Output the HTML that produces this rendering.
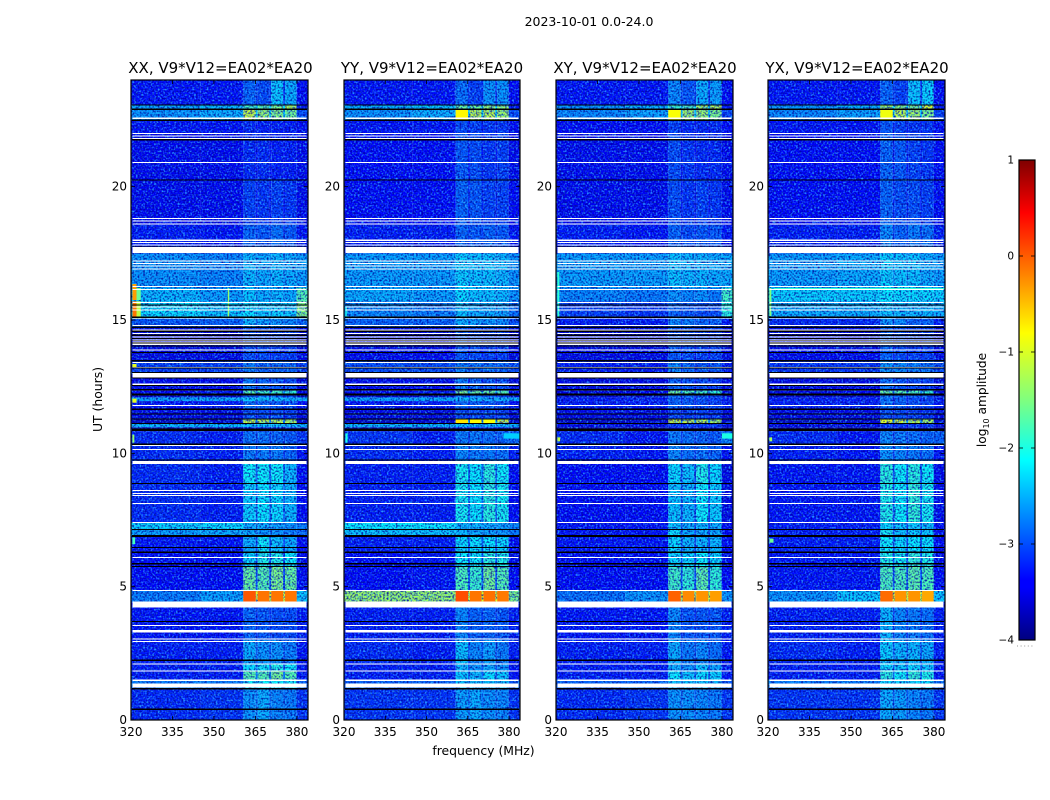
<!DOCTYPE html>
<html lang="en">
<head>
<meta charset="utf-8">
<title>2023-10-01 0.0-24.0</title>
<style>
html,body{margin:0;padding:0;background:#fff;width:1050px;height:800px;overflow:hidden}
svg{display:block}
text{font-family:"DejaVu Sans","Liberation Sans",sans-serif;fill:#000}
</style>
</head>
<body>
<svg id="figure" xmlns="http://www.w3.org/2000/svg" width="1050" height="800" viewBox="0 0 1050 800">
  <defs>
    <filter id="speck-light" x="0" y="0" width="100%" height="100%" color-interpolation-filters="sRGB">
      <feTurbulence type="fractalNoise" baseFrequency="0.55" numOctaves="1" seed="7"/>
      <feColorMatrix type="matrix" values="0 0 0 0 0.2  0 0 0 0 0.72  0 0 0 0 1  3.2 0 0 0 -1.45"/>
    </filter>
    <filter id="speck-dark" x="0" y="0" width="100%" height="100%" color-interpolation-filters="sRGB">
      <feTurbulence type="fractalNoise" baseFrequency="0.55" numOctaves="1" seed="23"/>
      <feColorMatrix type="matrix" values="0 0 0 0 0  0 0 0 0 0  0 0 0 0 0.6  0 3 0 0 -1.3"/>
    </filter>
    <linearGradient id="jet-gradient" x1="0" y1="1" x2="0" y2="0">
      <stop offset="0" stop-color="#00007f"/>
      <stop offset="0.11" stop-color="#0000ff"/>
      <stop offset="0.125" stop-color="#0000ff"/>
      <stop offset="0.375" stop-color="#00ffff"/>
      <stop offset="0.5" stop-color="#7fff7f"/>
      <stop offset="0.64" stop-color="#ffff00"/>
      <stop offset="0.89" stop-color="#ff0000"/>
      <stop offset="1" stop-color="#7f0000"/>
    </linearGradient>
  </defs>
  <text x="589" y="26" font-size="12.5" text-anchor="middle">2023-10-01 0.0-24.0</text>
  <text x="483.5" y="755" font-size="12.4" text-anchor="middle">frequency (MHz)</text>
  <text x="0" y="0" font-size="12.4" text-anchor="middle" transform="translate(102,399.5) rotate(-90)">UT (hours)</text>
  <text x="0" y="0" font-size="12.2" text-anchor="middle" transform="translate(986,400) rotate(-90)">log<tspan font-size="8" dy="3">10</tspan><tspan dy="-3"> amplitude</tspan></text>
  <g id="panels"></g>
  <g id="colorbar"></g>
</svg>
<script>
// ---- Data ----
const panelTitles = ["XX, V9*V12=EA02*EA20", "YY, V9*V12=EA02*EA20", "XY, V9*V12=EA02*EA20", "YX, V9*V12=EA02*EA20"];
const xTickValues = [320, 335, 350, 365, 380];
const yTickValues = [0, 5, 10, 15, 20];
const colorbarTicks = [-4, -3, -2, -1, 0, 1];

// Frequency segments in MHz and the column of each row value that paints them.
const freqEdges = [320, 345, 360.6, 365.1, 365.8, 370, 370.7, 375, 375.7, 379.9, 384];
const freqColumn = [0, 1, 2, 6, 3, 6, 4, 6, 5, 7];

// UT hours at row boundaries
const hourEdges = [0,1.2,1.52,1.85,2.1,3,4.22,4.44,4.86,5.75,6.3,6.9,7.15,7.41,8.87,9.6,10.3,10.83,10.98,11.1,11.3,11.7,11.96,12.1,12.22,12.35,13,13.45,14.7,15.05,15.7,16.2,17.5,18.6,20.25,22,22.5,22.9,23.06,24];

// log10 amplitude: [left, mid, bandA, bandB, bandC, bandD, gaps, right]
const rowsXX = [
[-2.95,-2.9,-2.5,-2.4,-2.55,-2.6,-2.65,-2.9],
[-2.6,-2.6,-2.1,-2.1,-2.1,-2.1,-2.4,-2.7],
[-3,-3,-1.7,-1.7,-1.55,-1.7,-2.6,-3.05],
[-3,-3,-2.2,-2.1,-2,-2.1,-2.7,-3.05],
[-3,-3,-2.4,-2.5,-2.5,-2.6,-2.75,-3.05],
[-3.05,-3.05,-2.7,-2.75,-2.8,-2.8,-2.9,-3],
[-3.05,-3.05,-2.7,-2.75,-2.8,-2.8,-2.9,-3],
[-2.6,-2.45,-0.05,-0.2,-0.2,-0.2,-1,-2.3],
[-3.1,-3.1,-1.6,-1.7,-1.5,-1.6,-2.8,-3.1],
[-3.1,-3.1,-2.2,-2,-2,-2.1,-2.8,-3.15],
[-3.05,-3.05,-2.4,-2.1,-2.3,-2.4,-2.8,-3.1],
[-2.45,-2.4,-2.4,-2.5,-2.5,-2.6,-2.6,-2.7],
[-2.25,-2.2,-2.4,-2.4,-2.45,-2.5,-2.5,-2.6],
[-2.95,-3,-2.25,-2.15,-2.2,-2.35,-2.7,-3.1],
[-2.95,-3,-2.1,-2.1,-2.1,-2.35,-2.7,-3.1],
[-2.95,-3,-2.6,-2.6,-2.6,-2.7,-2.85,-3.05],
[-2.95,-3,-2.65,-2.65,-2.7,-2.75,-2.85,-2.9],
[-3.4,-3.4,-3,-3,-3,-3,-3.2,-3.4],
[-2.35,-2.35,-2.3,-2.3,-2.3,-2.3,-2.4,-2.4],
[-3.4,-3.3,-1.15,-1.2,-1.2,-1.25,-2.6,-3.3],
[-3.2,-3.2,-2.8,-2.8,-2.8,-2.85,-3,-3.2],
[-3.05,-3,-2.65,-2.7,-2.75,-2.8,-2.9,-3.1],
[-2.45,-2.4,-2.3,-2.3,-2.35,-2.4,-2.4,-2.4],
[-3.3,-3.3,-2.7,-2.7,-2.7,-2.8,-3,-3.3],
[-3.1,-3,-1.7,-1.8,-1.8,-1.9,-2.5,-3.1],
[-3.15,-3.15,-2.6,-2.7,-2.75,-2.8,-3,-3.2],
[-2.85,-2.85,-2.6,-2.7,-2.7,-2.7,-2.8,-2.85],
[-3.2,-3.2,-2.8,-2.8,-2.85,-2.85,-3,-3.2],
[-2.75,-2.7,-2.35,-2.45,-2.5,-2.55,-2.6,-2.7],
[-2.2,-2.3,-2.2,-2.3,-2.25,-2.3,-2.3,-1.45],
[-2.35,-2.45,-2.3,-2.4,-2.35,-2.4,-2.45,-1.7],
[-2.5,-2.55,-2.35,-2.4,-2.35,-2.4,-2.5,-2.45],
[-3,-3.05,-2.7,-2.75,-2.65,-2.75,-2.85,-3.05],
[-3.15,-3.15,-2.85,-2.9,-2.85,-2.9,-3,-3.15],
[-3.15,-3.15,-2.95,-2.95,-3,-3,-3.05,-3.15],
[-3.05,-3.05,-2.95,-3,-3,-3,-3.05,-3.1],
[-2.5,-2.4,-1.15,-1.35,-1.45,-1.55,-2.3,-2.8],
[-2.45,-2.35,-1.8,-1.7,-1.5,-1.25,-2.2,-3],
[-3.05,-3.05,-2.7,-2.8,-2.3,-2.4,-2.85,-3.1]];

const rowsYY = [
[-2.9,-2.9,-2.45,-2.4,-2.5,-2.55,-2.65,-2.9],
[-2.7,-2.7,-2.3,-2.3,-2.3,-2.3,-2.5,-2.75],
[-3,-3,-2.3,-2.35,-2.2,-2.3,-2.7,-3.05],
[-3,-3,-2.35,-2.5,-2.4,-2.5,-2.75,-3.05],
[-2.95,-3,-2.3,-2.55,-2.45,-2.6,-2.75,-3],
[-3,-3,-2.55,-2.7,-2.7,-2.75,-2.85,-3],
[-3,-3,-2.55,-2.7,-2.7,-2.75,-2.85,-3],
[-1.35,-1.35,0,-0.2,-0.18,-0.22,-1,-1.5],
[-3.1,-3.05,-1.75,-1.85,-1.55,-1.7,-2.75,-3.1],
[-3.1,-3.05,-2.1,-2.1,-1.95,-2,-2.75,-3.15],
[-3,-3,-2.2,-2.15,-2.15,-2.2,-2.75,-3.1],
[-2.3,-2.3,-2.35,-2.4,-2.45,-2.5,-2.5,-2.6],
[-2.15,-2.15,-2.35,-2.35,-2.4,-2.45,-2.45,-2.55],
[-3,-3,-2.05,-2.15,-1.95,-2.05,-2.65,-3.1],
[-3,-3,-2.05,-2.15,-1.95,-2.1,-2.65,-3.1],
[-2.95,-3,-2.55,-2.6,-2.6,-2.65,-2.8,-3],
[-2.9,-3,-2.6,-2.6,-2.65,-2.7,-2.85,-2.7],
[-3.4,-3.4,-3,-3,-3,-3,-3.2,-3.4],
[-2.35,-2.35,-2.35,-2.35,-2.35,-2.35,-2.4,-2.4],
[-3.4,-3.3,-0.75,-0.85,-0.9,-1,-2.4,-3.3],
[-3.2,-3.2,-2.8,-2.8,-2.8,-2.85,-3,-3.2],
[-3.05,-3,-2.7,-2.7,-2.75,-2.8,-2.9,-3.1],
[-2.45,-2.4,-2.35,-2.35,-2.4,-2.4,-2.4,-2.4],
[-3.3,-3.3,-2.7,-2.7,-2.75,-2.8,-3,-3.3],
[-3.1,-3,-1.5,-1.6,-1.6,-1.7,-2.4,-3.1],
[-3.15,-3.15,-2.6,-2.7,-2.75,-2.8,-3,-3.2],
[-2.8,-2.8,-2.6,-2.65,-2.65,-2.7,-2.75,-2.8],
[-3.15,-3.15,-2.75,-2.8,-2.85,-2.85,-3,-3.2],
[-2.7,-2.7,-2.4,-2.45,-2.5,-2.55,-2.6,-2.8],
[-2.55,-2.6,-2.3,-2.4,-2.4,-2.45,-2.45,-2.65],
[-2.4,-2.45,-2.2,-2.3,-2.3,-2.35,-2.35,-2.5],
[-2.45,-2.45,-2.25,-2.3,-2.3,-2.35,-2.4,-2.5],
[-3,-3,-2.7,-2.75,-2.7,-2.75,-2.85,-3.05],
[-3.1,-3.1,-2.7,-2.75,-2.85,-2.85,-2.95,-3.1],
[-3.1,-3.1,-2.75,-2.8,-2.9,-2.85,-3,-3.15],
[-3.05,-3.05,-2.8,-2.85,-2.9,-2.9,-3,-3.1],
[-2.5,-2.4,-0.85,-1.2,-1.2,-1.35,-2.25,-2.8],
[-2.4,-2.3,-1.6,-1.6,-1.4,-1.4,-2.2,-3],
[-3.05,-3.05,-2.65,-2.85,-2.5,-2.5,-2.9,-3.1]];

const rowsXY = [
[-2.95,-2.9,-2.5,-2.5,-2.55,-2.6,-2.7,-2.9],
[-2.7,-2.7,-2.3,-2.3,-2.3,-2.35,-2.5,-2.75],
[-3,-3,-2.15,-2.3,-2.2,-2.25,-2.7,-3.05],
[-3,-3,-2.4,-2.5,-2.3,-2.45,-2.75,-3.05],
[-3,-3,-2.4,-2.6,-2.55,-2.65,-2.8,-3.05],
[-3.05,-3.05,-2.55,-2.75,-2.75,-2.75,-2.9,-3],
[-3.05,-3.05,-2.55,-2.75,-2.75,-2.75,-2.9,-3],
[-2.65,-2.5,-0.1,-0.3,-0.35,-0.4,-1.1,-2.5],
[-3.1,-3.1,-1.8,-1.9,-1.65,-1.9,-2.8,-3.1],
[-3.1,-3.1,-2.2,-2.2,-2.1,-2.2,-2.8,-3.15],
[-3.05,-3.05,-2.2,-2.35,-2.35,-2.35,-2.8,-3.1],
[-3.05,-3.05,-2.15,-2.4,-2.4,-2.4,-2.8,-3.1],
[-3.05,-3.05,-2.3,-2.4,-2.35,-2.4,-2.8,-3.1],
[-3.1,-3.1,-2.3,-2.35,-2.1,-2.25,-2.8,-3.2],
[-3.1,-3.1,-2.2,-2.3,-2,-2.2,-2.8,-3.2],
[-3,-3.05,-2.55,-2.65,-2.65,-2.7,-2.85,-3.05],
[-2.95,-3.05,-2.6,-2.65,-2.7,-2.75,-2.85,-2.6],
[-3.4,-3.4,-3,-3,-3,-3,-3.2,-3.4],
[-3.2,-3.2,-2.9,-2.9,-2.9,-2.9,-3.1,-3.2],
[-3.4,-3.3,-1.05,-1.1,-1.2,-1.3,-2.6,-3.3],
[-3.2,-3.2,-2.85,-2.85,-2.85,-2.9,-3,-3.2],
[-3,-3,-2.7,-2.75,-2.8,-2.85,-2.95,-3],
[-3,-3,-2.7,-2.75,-2.8,-2.85,-2.95,-3],
[-3.3,-3.3,-2.7,-2.7,-2.75,-2.8,-3,-3.3],
[-3.2,-3.1,-1.55,-1.75,-1.8,-1.9,-2.6,-3.2],
[-3.2,-3.2,-2.7,-2.75,-2.8,-2.85,-3,-3.2],
[-3,-3,-2.55,-2.7,-2.75,-2.75,-2.9,-3],
[-3.2,-3.2,-2.75,-2.8,-2.85,-2.85,-3.05,-3.2],
[-3,-3,-2.55,-2.6,-2.7,-2.7,-2.8,-3],
[-2.85,-2.9,-2.7,-2.75,-2.8,-2.8,-2.8,-1.95],
[-2.55,-2.6,-2.5,-2.55,-2.5,-2.6,-2.6,-1.8],
[-2.45,-2.45,-2.3,-2.35,-2.35,-2.4,-2.45,-2.4],
[-3,-3.05,-2.7,-2.8,-2.75,-2.75,-2.9,-3.05],
[-3.15,-3.15,-2.8,-2.9,-2.85,-2.9,-3,-3.15],
[-3.15,-3.15,-2.8,-2.9,-2.95,-2.95,-3.05,-3.15],
[-3.1,-3.1,-2.85,-2.95,-2.95,-2.95,-3.05,-3.1],
[-2.55,-2.45,-0.9,-1.3,-1.35,-1.5,-2.3,-2.85],
[-2.5,-2.4,-1.85,-1.75,-1.3,-1.2,-2.2,-3],
[-3.05,-3.05,-2.55,-2.75,-2.4,-2.45,-2.85,-3.1]];

const rowsYX = [
[-2.9,-2.9,-2.4,-2.45,-2.55,-2.6,-2.7,-2.9],
[-2.6,-2.6,-2.2,-2.2,-2.2,-2.2,-2.4,-2.65],
[-3,-3,-1.95,-2.1,-1.9,-2,-2.65,-3.05],
[-3,-3,-2.2,-2.25,-2.2,-2.3,-2.7,-3.05],
[-2.95,-3,-2.25,-2.35,-2.35,-2.4,-2.7,-3],
[-3,-3,-2.35,-2.55,-2.6,-2.65,-2.85,-3],
[-3,-3,-2.35,-2.55,-2.6,-2.65,-2.85,-3],
[-2.5,-2.3,-0.15,-0.35,-0.35,-0.45,-1,-2.3],
[-3.05,-3.05,-1.75,-1.75,-1.65,-1.75,-2.75,-3.1],
[-3.05,-3.05,-2,-2.05,-1.9,-2,-2.75,-3.15],
[-3,-3,-2.1,-2.2,-2.15,-2.15,-2.75,-3.1],
[-3,-3,-2.05,-2.3,-2.25,-2.3,-2.75,-3.1],
[-3,-3,-2.2,-2.3,-2.25,-2.3,-2.75,-3.1],
[-3.05,-3.05,-2,-2.1,-1.9,-2.05,-2.75,-3.15],
[-3.05,-3.05,-1.95,-2.1,-1.95,-2.1,-2.75,-3.15],
[-3,-3.05,-2.5,-2.55,-2.6,-2.65,-2.85,-3.05],
[-2.95,-3.05,-2.55,-2.6,-2.65,-2.7,-2.85,-2.7],
[-3.4,-3.4,-3,-3,-3,-3,-3.2,-3.4],
[-3.2,-3.2,-2.9,-2.9,-2.9,-2.9,-3.1,-3.2],
[-3.4,-3.3,-1,-1.05,-1.2,-1.3,-2.5,-3.3],
[-3.2,-3.2,-2.8,-2.8,-2.85,-2.9,-3,-3.2],
[-3,-3,-2.65,-2.7,-2.8,-2.85,-2.95,-3],
[-3,-3,-2.65,-2.7,-2.8,-2.85,-2.95,-3],
[-3.3,-3.3,-2.65,-2.7,-2.75,-2.8,-3,-3.3],
[-3.2,-3.1,-1.6,-1.7,-1.75,-1.9,-2.6,-3.2],
[-3.2,-3.2,-2.65,-2.75,-2.8,-2.85,-3,-3.2],
[-2.9,-2.9,-2.5,-2.55,-2.6,-2.65,-2.7,-2.8],
[-3.15,-3.15,-2.7,-2.8,-2.85,-2.85,-3,-3.2],
[-2.95,-2.95,-2.5,-2.55,-2.7,-2.7,-2.8,-3],
[-2.4,-2.4,-2.3,-2.35,-2.35,-2.35,-2.4,-2.4],
[-2.25,-2.25,-2.15,-2.2,-2.2,-2.2,-2.25,-2.25],
[-2.45,-2.4,-2.25,-2.3,-2.3,-2.4,-2.45,-2.45],
[-3,-3,-2.55,-2.7,-2.6,-2.65,-2.85,-3],
[-3.1,-3.1,-2.7,-2.8,-2.8,-2.85,-2.95,-3.1],
[-3.1,-3.1,-2.7,-2.75,-2.85,-2.9,-3,-3.1],
[-3.05,-3.05,-2.75,-2.85,-2.9,-2.9,-3,-3.1],
[-2.55,-2.45,-0.95,-1.2,-1.3,-1.5,-2.3,-2.85],
[-2.5,-2.4,-1.35,-1.45,-1.5,-1.05,-2.2,-3],
[-3.05,-3.05,-2.7,-2.85,-2.3,-2.25,-2.85,-3.1]];

// Bright interference patches: [hourStart, hourEnd, freqStart, freqEnd, level]
const spotsXX = [[15.05,15.7,320.5,322,-0.2],[15.05,15.7,322,323.5,-1.2],[15.75,16.35,320.5,322,-0.4],[15.75,16.2,322,323.5,-1.6],[15.05,16.2,355,355.5,-1.4],[13.2,13.35,320.5,322,-1],[11.9,12.05,320.5,322,-1],[10.4,10.7,320.5,321.2,-1.4],[6.6,6.85,320.5,321.5,-1.8]];
const spotsYY = [[10.4,10.75,320.5,321.3,-2],[15.05,15.5,320.5,321,-2],[10.55,10.75,378,384,-2.3]];
const spotsXY = [[15.1,16.8,320.5,321.2,-1.9],[10.45,10.6,320.5,321.5,-1.2],[10.55,10.75,380,384,-2]];
const spotsYX = [[15.15,16.2,320.5,321.2,-1.5],[10.45,10.6,320.5,321.5,-1.3],[6.65,6.8,320.5,322,-1.6],[16.15,16.2,322,384,-1.9]];

// Flagged time ranges in hours
const whiteFlags = [[1.21,1.36],[1.46,1.52],[1.82,1.86],[2.08,2.12],[2.92,2.96],[3.01,3.05],[3.29,3.38],[3.53,3.57],[4.22,4.44],[4.84,4.88],[6.08,6.12],[7.39,7.43],[8.1,8.14],[8.4,8.44],[8.47,8.51],[8.58,8.62],[9.6,9.71],[10.13,10.17],[10.28,10.32],[11.77,11.81],[12.57,12.61],[12.83,13.02],[13.2,13.24],[13.39,13.43],[13.86,13.9],[14.07,14.11],[14.16,14.2],[14.23,14.27],[14.34,14.38],[14.48,14.52],[14.61,14.65],[14.77,14.81],[15.06,15.1],[15.36,15.4],[15.46,15.5],[15.64,15.68],[16.13,16.17],[16.23,16.27],[16.9,16.94],[17,17.04],[17.1,17.14],[17.2,17.24],[17.52,17.73],[17.8,17.84],[17.88,17.92],[17.97,18.01],[18.58,18.62],[18.69,18.73],[18.79,18.83],[20.89,20.93],[21.78,21.82],[21.88,21.92],[21.98,22.02],[22.53,22.6]];
const blackFlags = [[0.38,0.44],[1.14,1.2],[2.22,2.26],[3.67,3.72],[5.73,5.77],[5.83,5.88],[6.27,6.32],[6.45,6.49],[6.87,6.94],[7.13,7.17],[8.85,8.89],[9.73,9.77],[10.32,10.36],[10.84,10.93],[11.1,11.14],[11.26,11.31],[11.45,11.5],[11.63,11.68],[12.16,12.24],[12.36,12.42],[12.52,12.56],[12.8,12.84],[13.02,13.05],[13.19,13.22],[13.45,13.5],[13.76,13.8],[14,14.05],[14.12,14.15],[14.21,14.23],[14.28,14.33],[14.4,14.46],[14.55,14.6],[14.7,14.75],[15.08,15.14],[15.55,15.59],[20.23,20.27],[21.73,21.78],[22.47,22.52],[22.87,22.94],[23.04,23.08],[17.73,17.76]];

// ---- Layout ----
const panelLeft = [131, 344, 556, 768];
const panelWidth = [177, 176, 177, 177];
const plotTop = 80, plotBottom = 720;
const panelRows = [rowsXX, rowsYY, rowsXY, rowsYX];
const panelSpots = [spotsXX, spotsYY, spotsXY, spotsYX];
const panelKeys = ['xx', 'yy', 'xy', 'yx'];
const titleCenters = [220.5, 432, 645, 857];
const hotLevel = -1.0;
const NS = 'http://www.w3.org/2000/svg';

function make(tag, attrs, parent) {
  const el = document.createElementNS(NS, tag);
  for (const k in attrs) el.setAttribute(k, attrs[k]);
  parent.appendChild(el);
  return el;
}
function yScale(h) { return plotBottom - (h / 24) * (plotBottom - plotTop); }
function xScale(p, f) { return panelLeft[p] + ((f - 320) / 64) * panelWidth[p]; }
function jetChannel(t, center) {
  return Math.max(0, Math.min(1, 1.5 - Math.abs(4 * t - center)));
}
function levelColor(v) {
  // faint levels sit below their nominal colour once speckle is laid over them
  const shifted = v - 0.28 * Math.max(0, Math.min(1, (-2.1 - v) / 0.9));
  const t = Math.max(0, Math.min(1, (shifted + 4) / 5));
  const r = Math.round(255 * jetChannel(t, 3));
  const g = Math.round(255 * jetChannel(t, 2));
  const b = Math.round(255 * jetChannel(t, 1));
  return 'rgb(' + r + ',' + g + ',' + b + ')';
}

const panelsGroup = document.getElementById('panels');

panelTitles.forEach(function (title, p) {
  const key = panelKeys[p];
  const x0 = panelLeft[p], w = panelWidth[p];
  const g = make('g', {}, panelsGroup);
  
  

  const titleEl = make('text', {x: titleCenters[p], y: 73, 'font-size': 15, 'text-anchor': 'middle'}, g);
  titleEl.textContent = title;
  
  

  const clipId = 'clip-' + key;
  const clip = make('clipPath', {id: clipId}, g);
  make('rect', {x: x0, y: plotTop, width: w, height: plotBottom - plotTop}, clip);
  const plot = make('g', {'clip-path': 'url(#' + clipId + ')'}, g);
  
  

  const hotCells = [];
  panelRows[p].forEach(function (row, r) {
    const yTop = yScale(hourEdges[r + 1]), yBot = yScale(hourEdges[r]);
    freqColumn.forEach(function (col, c) {
      const xa = xScale(p, freqEdges[c]), xb = xScale(p, freqEdges[c + 1]);
      const v = row[col];
      const cell = make('rect', {x: xa, y: yTop, width: xb - xa, height: yBot - yTop, fill: levelColor(v)}, plot);
      
      
      if (v > hotLevel) hotCells.push(cell);
    });
  });

  const light = make('rect', {x: x0, y: plotTop, width: w, height: plotBottom - plotTop, filter: 'url(#speck-light)', opacity: 0.85}, plot);
  
  
  const dark = make('rect', {x: x0, y: plotTop, width: w, height: plotBottom - plotTop, filter: 'url(#speck-dark)', opacity: 0.85}, plot);
  
  

  // strong signal stays clean: lift those cells above the speckle
  hotCells.forEach(function (cell) { plot.appendChild(cell); });

  panelSpots[p].forEach(function (s) {
    const xa = xScale(p, s[2]), xb = xScale(p, s[3]);
    const spot = make('rect', {x: xa, y: yScale(s[1]), width: xb - xa, height: yScale(s[0]) - yScale(s[1]), fill: levelColor(s[4])}, plot);
    
    
  });

  whiteFlags.forEach(function (f) {
    const band = make('rect', {x: x0 + 1.5, y: yScale(f[1]), width: w - 3, height: yScale(f[0]) - yScale(f[1]), fill: '#fff', 'shape-rendering': 'crispEdges'}, plot);
    
    
  });
  blackFlags.forEach(function (f) {
    const band = make('rect', {x: x0 + 1, y: yScale(f[1]), width: w - 2, height: yScale(f[0]) - yScale(f[1]), fill: '#000', 'shape-rendering': 'crispEdges'}, plot);
    
    
  });

  const frame = make('rect', {x: x0, y: plotTop, width: w, height: plotBottom - plotTop, fill: 'none', stroke: '#000', 'stroke-width': 1.2}, g);
  
  

  xTickValues.forEach(function (v) {
    const x = xScale(p, v);
    const t1 = make('line', {x1: x, x2: x, y1: plotBottom, y2: plotBottom - 4, stroke: '#000', 'stroke-width': 0.8}, g);
    
    
    const t2 = make('line', {x1: x, x2: x, y1: plotTop, y2: plotTop + 4, stroke: '#000', 'stroke-width': 0.8}, g);
    
    
    const lab = make('text', {x: x, y: 736, 'font-size': 12, 'text-anchor': 'middle'}, g);
    lab.textContent = v;
    
    
  });
  yTickValues.forEach(function (v) {
    const y = yScale(v);
    const t1 = make('line', {x1: x0, x2: x0 + 4, y1: y, y2: y, stroke: '#000', 'stroke-width': 0.8}, g);
    
    
    const t2 = make('line', {x1: x0 + w, x2: x0 + w - 4, y1: y, y2: y, stroke: '#000', 'stroke-width': 0.8}, g);
    
    
    const lab = make('text', {x: x0 - 4, y: y + 4, 'font-size': 12, 'text-anchor': 'end'}, g);
    lab.textContent = v;
    
    
  });
});

// ---- Colorbar ----
const cbar = document.getElementById('colorbar');
const cbLeft = 1019, cbWidth = 16, cbTop = 160, cbBottom = 640;
function cbScale(v) { return cbBottom - ((v + 4) / 5) * (cbBottom - cbTop); }

const ramp = make('rect', {x: cbLeft, y: cbTop, width: cbWidth, height: cbBottom - cbTop, fill: 'url(#jet-gradient)', stroke: '#000', 'stroke-width': 1.2}, cbar);



colorbarTicks.forEach(function (v) {
  const y = cbScale(v);
  const a = make('line', {x1: cbLeft, x2: cbLeft + 4, y1: y, y2: y, stroke: '#000', 'stroke-width': 0.8}, cbar);
  
  
  const b = make('line', {x1: cbLeft + cbWidth, x2: cbLeft + cbWidth - 4, y1: y, y2: y, stroke: '#000', 'stroke-width': 0.8}, cbar);
  
  
  const lab = make('text', {x: 1014, y: y + 3.5, 'font-size': 10.5, 'text-anchor': 'end'}, cbar);
  lab.textContent = v < 0 ? '\u2212' + Math.abs(v) : String(v);
  
  
});

const dots = make('line', {x1: 1017, x2: 1035, y1: 646, y2: 646, stroke: '#999', 'stroke-width': 1, 'stroke-dasharray': '1 2.6'}, cbar);


</script>
</body>
</html>
